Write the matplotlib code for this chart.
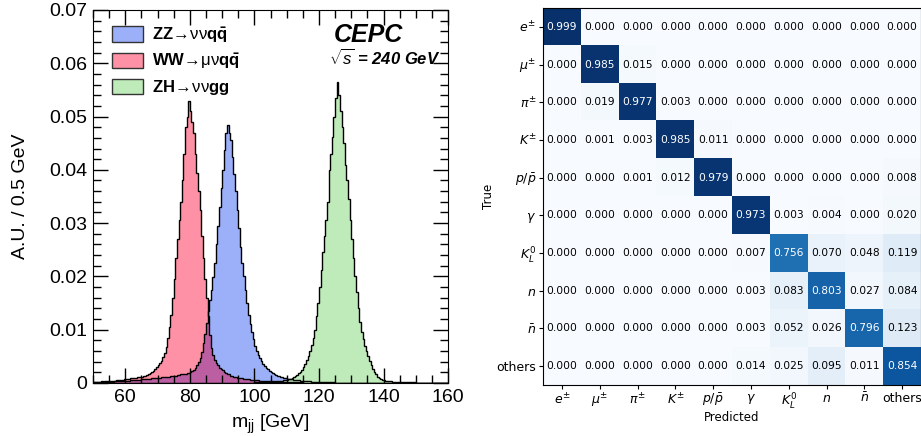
import numpy as np
import matplotlib
matplotlib.use("Agg")
import matplotlib.pyplot as plt
from matplotlib.patches import Patch
from matplotlib.ticker import MultipleLocator, FuncFormatter

plt.rcParams["mathtext.fontset"] = "custom"
plt.rcParams["mathtext.rm"] = "Liberation Sans"
plt.rcParams["mathtext.it"] = "Liberation Sans:italic"
plt.rcParams["mathtext.bf"] = "Liberation Sans:bold"

# --- dijet mass histograms (A.U. / 0.5 GeV) ---
BIN_W = 0.5

ww_start = 50
ww_vals = [
    0.0002, 0.0002, 0.0002, 0.0002, 0.0002, 0.0003, 0.0002, 0.0003, 0.0003, 0.0003,
    0.0003, 0.0004, 0.0004, 0.0004, 0.0005, 0.0005, 0.0005, 0.0006, 0.0006, 0.0007,
    0.0007, 0.0008, 0.0008, 0.0009, 0.0009, 0.0010, 0.0010, 0.0011, 0.0011, 0.0012,
    0.0012, 0.0013, 0.0014, 0.0015, 0.0016, 0.0018, 0.0020, 0.0023, 0.0026, 0.0030,
    0.0033, 0.0037, 0.0041, 0.0048, 0.0056, 0.0068, 0.0085, 0.0105, 0.0128, 0.0160,
    0.0195, 0.0235, 0.0270, 0.0305, 0.0340, 0.0380, 0.0430, 0.0480, 0.0500, 0.0530,
    0.0510, 0.0490, 0.0470, 0.0430, 0.0395, 0.0360, 0.0325, 0.0275, 0.0235, 0.0195,
    0.0160, 0.0125, 0.0090, 0.0065, 0.0052, 0.0044, 0.0038, 0.0033, 0.0029, 0.0026,
    0.0024, 0.0021, 0.0019, 0.0017, 0.0016, 0.0014, 0.0013, 0.0012, 0.0011, 0.0010,
    0.0010, 0.0009, 0.0009, 0.0008, 0.0008, 0.0007, 0.0007, 0.0006, 0.0006, 0.0006,
    0.0005, 0.0005, 0.0005, 0.0004, 0.0004, 0.0004, 0.0004, 0.0003, 0.0003, 0.0003,
    0.0003, 0.0003, 0.0002, 0.0002, 0.0002, 0.0002, 0.0002, 0.0002, 0.0002, 0.0001,
    0.0001, 0.0001, 0.0001, 0.0001, 0.0001, 0.0001, 0.0001, 0.0001, 0.0001, 0.0001,
]

zz_start = 50
zz_vals = [
    0.0001, 0.0001, 0.0001, 0.0001, 0.0001, 0.0001, 0.0002, 0.0002, 0.0002, 0.0002,
    0.0002, 0.0002, 0.0002, 0.0003, 0.0003, 0.0003, 0.0003, 0.0003, 0.0003, 0.0004,
    0.0004, 0.0004, 0.0004, 0.0005, 0.0005, 0.0005, 0.0005, 0.0006, 0.0006, 0.0006,
    0.0007, 0.0007, 0.0007, 0.0008, 0.0008, 0.0008, 0.0009, 0.0009, 0.0010, 0.0010,
    0.0010, 0.0010, 0.0011, 0.0011, 0.0011, 0.0012, 0.0012, 0.0012, 0.0013, 0.0013,
    0.0014, 0.0014, 0.0015, 0.0015, 0.0016, 0.0016, 0.0017, 0.0017, 0.0018, 0.0019,
    0.0020, 0.0022, 0.0025, 0.0029, 0.0034, 0.0040, 0.0047, 0.0058, 0.0075, 0.0092,
    0.0112, 0.0135, 0.0155, 0.0175, 0.0198, 0.0225, 0.0260, 0.0295, 0.0330, 0.0365,
    0.0400, 0.0437, 0.0470, 0.0485, 0.0470, 0.0456, 0.0425, 0.0393, 0.0360, 0.0325,
    0.0290, 0.0256, 0.0225, 0.0200, 0.0175, 0.0150, 0.0128, 0.0110, 0.0095, 0.0082,
    0.0070, 0.0060, 0.0052, 0.0046, 0.0041, 0.0036, 0.0032, 0.0029, 0.0026, 0.0023,
    0.0021, 0.0019, 0.0017, 0.0015, 0.0014, 0.0013, 0.0012, 0.0011, 0.0010, 0.0009,
    0.0008, 0.0008, 0.0007, 0.0007, 0.0006, 0.0006, 0.0005, 0.0005, 0.0004, 0.0004,
    0.0004, 0.0003, 0.0003, 0.0003, 0.0003, 0.0002, 0.0002, 0.0002, 0.0002, 0.0002,
    0.0001, 0.0001, 0.0001, 0.0001, 0.0001, 0.0001, 0.0001, 0.0001, 0.0001, 0.0001,
]

zh_start = 100
zh_vals = [
    0.0001, 0.0001, 0.0001, 0.0001, 0.0001, 0.0001, 0.0001, 0.0001, 0.0002, 0.0002,
    0.0002, 0.0002, 0.0002, 0.0003, 0.0003, 0.0003, 0.0004, 0.0004, 0.0005, 0.0005,
    0.0006, 0.0007, 0.0008, 0.0009, 0.0011, 0.0013, 0.0015, 0.0018, 0.0021, 0.0025,
    0.0030, 0.0036, 0.0043, 0.0051, 0.0060, 0.0072, 0.0085, 0.0100, 0.0125, 0.0150,
    0.0180, 0.0212, 0.0245, 0.0275, 0.0305, 0.0340, 0.0400, 0.0430, 0.0462, 0.0500,
    0.0535, 0.0565, 0.0540, 0.0510, 0.0480, 0.0450, 0.0410, 0.0380, 0.0345, 0.0305,
    0.0270, 0.0235, 0.0200, 0.0170, 0.0140, 0.0115, 0.0095, 0.0082, 0.0070, 0.0060,
    0.0050, 0.0041, 0.0033, 0.0026, 0.0020, 0.0016, 0.0012, 0.0009, 0.0007, 0.0006,
    0.0005, 0.0004, 0.0004, 0.0003, 0.0003, 0.0002, 0.0002, 0.0002, 0.0002, 0.0001,
    0.0001, 0.0001, 0.0001, 0.0001, 0.0001, 0.0001, 0.0001, 0.0001, 0.0001, 0.0001,
]

# --- PID confusion matrix ---
classes = [r"$e^{\pm}$", r"$\mu^{\pm}$", r"$\pi^{\pm}$", r"$K^{\pm}$", r"$p/\bar{p}$",
           r"$\gamma$", r"$K_L^0$", r"$n$", r"$\bar{n}$", "others"]
cm = np.array([
    [0.999, 0.000, 0.000, 0.000, 0.000, 0.000, 0.000, 0.000, 0.000, 0.000],
    [0.000, 0.985, 0.015, 0.000, 0.000, 0.000, 0.000, 0.000, 0.000, 0.000],
    [0.000, 0.019, 0.977, 0.003, 0.000, 0.000, 0.000, 0.000, 0.000, 0.000],
    [0.000, 0.001, 0.003, 0.985, 0.011, 0.000, 0.000, 0.000, 0.000, 0.000],
    [0.000, 0.000, 0.001, 0.012, 0.979, 0.000, 0.000, 0.000, 0.000, 0.008],
    [0.000, 0.000, 0.000, 0.000, 0.000, 0.973, 0.003, 0.004, 0.000, 0.020],
    [0.000, 0.000, 0.000, 0.000, 0.000, 0.007, 0.756, 0.070, 0.048, 0.119],
    [0.000, 0.000, 0.000, 0.000, 0.000, 0.003, 0.083, 0.803, 0.027, 0.084],
    [0.000, 0.000, 0.000, 0.000, 0.000, 0.003, 0.052, 0.026, 0.796, 0.123],
    [0.000, 0.000, 0.000, 0.000, 0.000, 0.014, 0.025, 0.095, 0.011, 0.854],
])

XMIN, XMAX = 50, 160
edges = np.arange(XMIN, XMAX + BIN_W / 2, BIN_W)


def on_grid(start, vals):
    h = np.zeros(len(edges) - 1)
    i0 = int(round((start - XMIN) / BIN_W))
    h[i0:i0 + len(vals)] = vals
    return h


ww = on_grid(ww_start, ww_vals)
zz = on_grid(zz_start, zz_vals)
zh = on_grid(zh_start, zh_vals)

c_zz = "#9cb0fa"
c_ww = "#ff91a6"
c_zh = "#bfebba"
c_overlap = "#bb5fa2"

fig = plt.figure(figsize=(9.21, 4.36), dpi=100)

# --- left: mjj ---
ax = fig.add_axes([0.101, 0.1216, 0.3855, 0.8555])
ax.stairs(zz, edges, fill=True, color=c_zz)
ax.stairs(ww, edges, fill=True, color=c_ww)
ax.stairs(np.minimum(ww, zz), edges, fill=True, color=c_overlap)
ax.stairs(zh, edges, fill=True, color=c_zh)
ax.stairs(zz, edges, color="black", lw=1.0)
ax.stairs(ww, edges, color="black", lw=1.0)
ax.stairs(zh, edges, color="black", lw=1.0)

ax.set_xlim(XMIN, XMAX)
ax.set_ylim(0, 0.07)
ax.xaxis.set_major_locator(MultipleLocator(20))
ax.xaxis.set_minor_locator(MultipleLocator(5))
ax.yaxis.set_major_locator(MultipleLocator(0.01))
ax.yaxis.set_minor_locator(MultipleLocator(0.002))
ax.yaxis.set_major_formatter(FuncFormatter(lambda v, p: "0" if abs(v) < 1e-9 else f"{v:.2f}"))
ax.tick_params(which="both", direction="in", top=True, right=True, labelsize=14, pad=4)
ax.tick_params(which="major", length=11, width=1)
ax.tick_params(which="minor", length=6, width=1)
for lab in ax.get_xticklabels() + ax.get_yticklabels():
    lab.set_family("Liberation Sans")
ax.set_xlabel(r"m$_{\rm jj}$ [GeV]", fontsize=14, family="Liberation Sans", labelpad=5)
ax.set_ylabel("A.U. / 0.5 GeV", fontsize=14, family="Liberation Sans", labelpad=15)

handles = [Patch(facecolor=c_zz, edgecolor="#333333"),
           Patch(facecolor=c_ww, edgecolor="#333333"),
           Patch(facecolor=c_zh, edgecolor="#333333")]
labels = [r"$\mathbf{ZZ}\!\rightarrow\!\mathrm{\nu\nu}\mathbf{q\bar{q}}$",
          r"$\mathbf{WW}\!\rightarrow\!\mathrm{\mu\nu}\mathbf{q\bar{q}}$",
          r"$\mathbf{ZH}\!\rightarrow\!\mathrm{\nu\nu}\mathbf{gg}$"]
ax.legend(handles, labels, loc="upper left", bbox_to_anchor=(0.01, 1.0), frameon=False,
          fontsize=12, handlelength=1.9, handleheight=1.05, labelspacing=0.42, handletextpad=0.5)

ax.text(0.777, 0.933, "CEPC", transform=ax.transAxes, ha="center", va="center",
        fontsize=18, fontweight="bold", fontstyle="italic", family="Liberation Sans")
ax.text(0.822, 0.871, r"$\sqrt{s}$ = 240 GeV", transform=ax.transAxes, ha="center", va="center",
        fontsize=12, fontweight="bold", fontstyle="italic", family="Liberation Sans")

# --- right: confusion matrix ---
ax2 = fig.add_axes([0.5896, 0.117, 0.4104, 0.8647])
ax2.imshow(cm, cmap="Blues", vmin=0, vmax=1, aspect="auto")
for i in range(cm.shape[0]):
    for j in range(cm.shape[1]):
        col = "white" if cm[i, j] > 0.5 else "black"
        ax2.text(j, i, f"{cm[i, j]:.3f}", ha="center", va="center", fontsize=7.7, color=col)
ax2.set_xticks(range(len(classes)))
ax2.set_yticks(range(len(classes)))
ax2.set_xticklabels(classes, fontsize=9)
ax2.set_yticklabels(classes, fontsize=9)
for lab in ax2.get_xticklabels() + ax2.get_yticklabels():
    lab.set_math_fontfamily("dejavusans")
ax2.set_xlabel("Predicted", fontsize=8.5, labelpad=-1)
ax2.set_ylabel("True", fontsize=8.5, labelpad=1)
ax2.tick_params(length=3, pad=2)

fig.savefig("out.png", dpi=100)
